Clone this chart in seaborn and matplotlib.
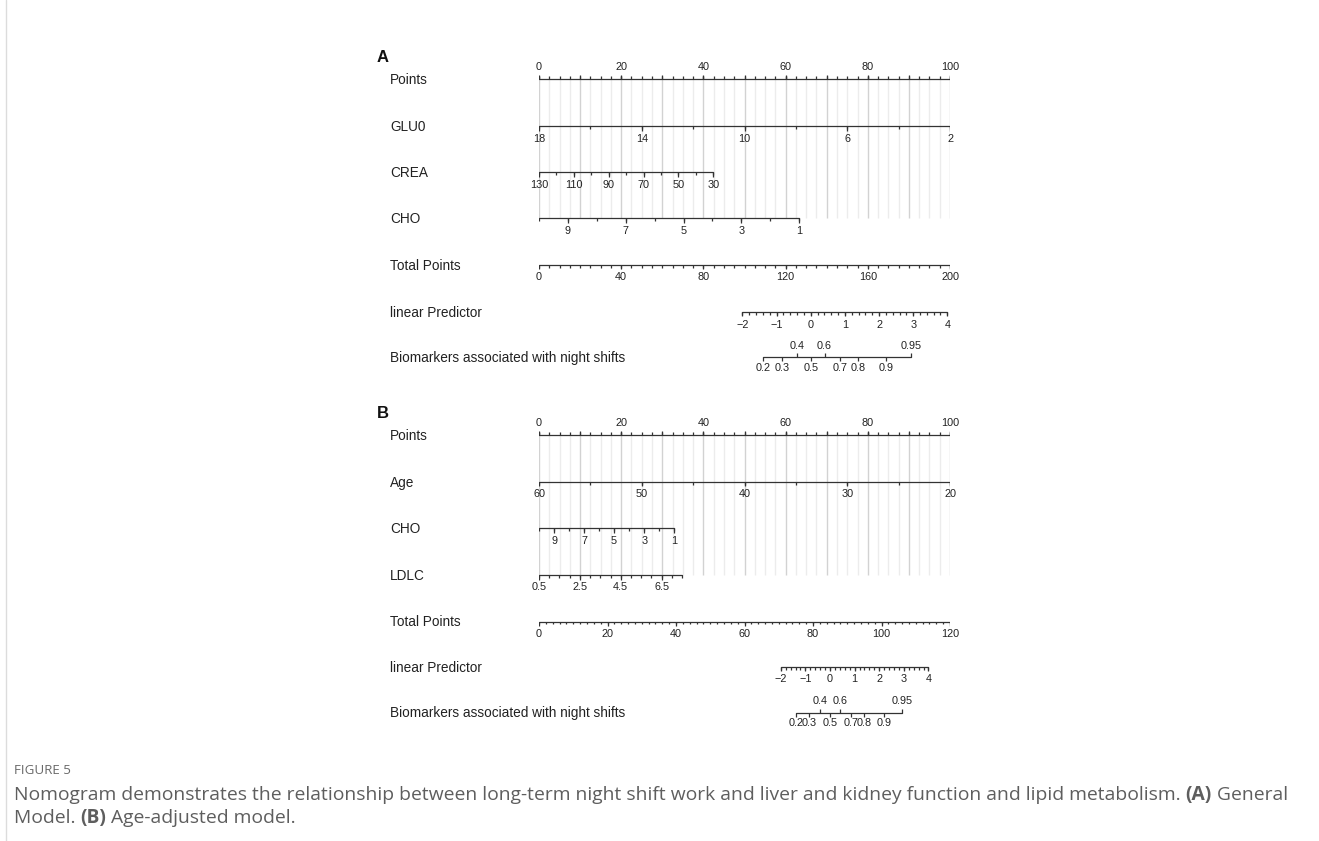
import numpy as np
import pandas as pd
import matplotlib
matplotlib.use("Agg")
import matplotlib.pyplot as plt
from matplotlib.transforms import blended_transform_factory
import seaborn as sns

# ---------------- Panel A: general model ----------------
A_POINTS_LABELS = [0, 20, 40, 60, 80, 100]
GLU0_TICKS = [18, 16, 14, 12, 10, 8, 6, 4, 2]
GLU0_LABELS = [18, 14, 10, 6, 2]
GLU0_POINTS = [0.0, 100.0]          # points at first / last tick value
CREA_TICKS = [130, 120, 110, 100, 90, 80, 70, 60, 50, 40, 30]
CREA_LABELS = [130, 110, 90, 70, 50, 30]
CREA_POINTS = [0.0, 42.4]
A_CHO_TICKS = [10, 9, 8, 7, 6, 5, 4, 3, 2, 1]
A_CHO_LABELS = [9, 7, 5, 3, 1]
A_CHO_POINTS = [0.0, 63.3]
A_TOTAL_MAX = 200
A_TOTAL_LABELS = [0, 40, 80, 120, 160, 200]
LP_LABELS = [-2, -1, 0, 1, 2, 3, 4]
A_LP_TOTAL = [99.0, 198.7]          # total points at lp = -2 and lp = 4
PROB_TICKS = [0.2, 0.3, 0.4, 0.5, 0.6, 0.7, 0.8, 0.9, 0.95]
PROB_UPPER = [0.4, 0.6, 0.95]

# ---------------- Panel B: age-adjusted model ----------------
AGE_TICKS = [60, 55, 50, 45, 40, 35, 30, 25, 20]
AGE_LABELS = [60, 50, 40, 30, 20]
AGE_POINTS = [0.0, 100.0]
B_CHO_TICKS = [10, 9, 8, 7, 6, 5, 4, 3, 2, 1]
B_CHO_LABELS = [9, 7, 5, 3, 1]
B_CHO_POINTS = [0.0, 32.9]
LDLC_TICKS = [0.5, 1.0, 1.5, 2.0, 2.5, 3.0, 3.5, 4.0, 4.5, 5.0, 5.5, 6.0, 6.5, 7.0, 7.5]
LDLC_LABELS = [0.5, 2.5, 4.5, 6.5]
LDLC_POINTS = [0.0, 34.8]
B_TOTAL_MAX = 120
B_TOTAL_LABELS = [0, 20, 40, 60, 80, 100, 120]
B_LP_TOTAL = [70.6, 113.7]

ROW_NAMES_A = ["Points", "GLU0", "CREA", "CHO", "Total Points",
               "linear Predictor", "Biomarkers associated with night shifts"]
ROW_NAMES_B = ["Points", "Age", "CHO", "LDLC", "Total Points",
               "linear Predictor", "Biomarkers associated with night shifts"]

# ---------------- layout (pixels) ----------------
W, H = 1319, 841
X0, X1 = 539, 950                    # points 0 .. 100
ROWS_A = [79, 126, 172, 218, 265, 312, 357]
ROWS_B = [435, 481.5, 528, 575, 621.5, 667, 712.5]
LABEL_X = 390
INK = "#333333"
GRID_MAJOR = "#d2d2d2"
GRID_MINOR = "#ececec"
TICK_FS = 7.8
ROW_FS = 9.8

sns.set_theme(style="white")
plt.rcParams["font.family"] = ["Liberation Sans", "DejaVu Sans"]

fig = plt.figure(figsize=(W / 100, H / 100), dpi=100)
fig.patch.set_facecolor("white")
ax = fig.add_axes([X0 / W, 0, (X1 - X0) / W, 1])
ax.set_xlim(0, 100)
ax.set_ylim(H, 0)
ax.axis("off")
lab_tr = blended_transform_factory(fig.transFigure, ax.transData)

segments = []          # baselines collected for seaborn


def fmt(v):
    if float(v).is_integer():
        s = str(int(v))
    else:
        s = ("%g" % v)
    return s.replace("-", "\u2212")


def lin(v, v0, v1, p0, p1):
    return p0 + (np.asarray(v, float) - v0) * (p1 - p0) / (v1 - v0)


def ticks(xs, y, length, up):
    y2 = y - length if up else y + length
    ax.vlines(xs, y, y2, color=INK, lw=0.9)


def labels(xs, vals, y, up, off=12.5):
    for x, v in zip(xs, vals):
        ax.text(x, y - off if up else y + off, fmt(v), ha="center", va="center",
                fontsize=TICK_FS, color="#222222", clip_on=False)


def scale(name, y, xs_all, xs_lab, vals_lab, up, minor_len=3.0, major_len=4.5):
    xs_all = np.asarray(xs_all, float)
    segments.append(pd.DataFrame({"x": [xs_all.min(), xs_all.max()], "y": [y, y], "scale": name}))
    ticks(xs_all, y, minor_len, up)
    ticks(xs_lab, y, major_len, up)
    labels(xs_lab, vals_lab, y, up)


def variable(name, y, tick_vals, lab_vals, pts):
    v0, v1 = tick_vals[0], tick_vals[-1]
    scale(name, y, lin(tick_vals, v0, v1, *pts), lin(lab_vals, v0, v1, *pts),
          lab_vals, up=False, minor_len=3.0, major_len=4.5)


def grid(y_top, y_bot):
    steps = np.arange(0, 100.01, 2.5)
    major = steps[np.isclose(steps % 10, 0)]
    minor = steps[~np.isclose(steps % 10, 0)]
    ax.vlines(minor, y_top, y_bot, color=GRID_MINOR, lw=1.0, zorder=0)
    ax.vlines(major, y_top, y_bot, color=GRID_MAJOR, lw=1.0, zorder=0)


def panel(letter, rows, names, var_specs, total_max, total_labels, total_step, lp_total):
    y = rows
    ax.text(377 / W, y[0] - 22, letter, transform=lab_tr, fontsize=12,
            fontweight="bold", ha="left", va="center", color="#111111")
    for yy, nm in zip(y, names):
        ax.text(LABEL_X / W, yy + 1, nm, transform=lab_tr, fontsize=ROW_FS,
                ha="left", va="center", color="#222222")
    grid(y[0], y[3])
    # points scale
    pts_all = np.arange(0, 100.01, 2.5)
    scale("points", y[0], pts_all, A_POINTS_LABELS, A_POINTS_LABELS, up=True,
          minor_len=2.8, major_len=2.8)
    ticks(np.arange(0, 100.01, 10), y[0], 3.8, True)
    # predictors
    for i, (nm, tv, lv, pp) in enumerate(var_specs):
        variable(nm, y[i + 1], tv, lv, pp)
    # total points
    tot_all = np.arange(0, total_max + 0.01, total_step)
    to_x = lambda t: np.asarray(t, float) * 100.0 / total_max
    scale("total", y[4], to_x(tot_all), to_x(total_labels), total_labels, up=False,
          minor_len=2.8, major_len=4.2)
    # linear predictor
    lp_to_x = lambda lp: to_x(lin(lp, -2, 4, lp_total[0], lp_total[1]))
    lp_all = np.arange(-2, 4.001, 0.2)
    scale("lp", y[5], lp_to_x(lp_all), lp_to_x(LP_LABELS), LP_LABELS, up=False,
          minor_len=2.8, major_len=4.2)
    # probability
    p = np.asarray(PROB_TICKS)
    px = lp_to_x(np.log(p / (1 - p)))
    segments.append(pd.DataFrame({"x": [px.min(), px.max()], "y": [y[6], y[6]], "scale": "prob"}))
    upper = np.isin(p, PROB_UPPER)
    ticks(px[upper], y[6], 4.0, True)
    ticks(px[~upper], y[6], 4.0, False)
    labels(px[upper], p[upper], y[6], True, off=11.0)
    labels(px[~upper], p[~upper], y[6], False, off=11.0)


panel("A", ROWS_A, ROW_NAMES_A,
      [("GLU0", GLU0_TICKS, GLU0_LABELS, GLU0_POINTS),
       ("CREA", CREA_TICKS, CREA_LABELS, CREA_POINTS),
       ("CHO", A_CHO_TICKS, A_CHO_LABELS, A_CHO_POINTS)],
      A_TOTAL_MAX, A_TOTAL_LABELS, 5, A_LP_TOTAL)
segA = segments
segments = []
panel("B", ROWS_B, ROW_NAMES_B,
      [("Age", AGE_TICKS, AGE_LABELS, AGE_POINTS),
       ("CHO", B_CHO_TICKS, B_CHO_LABELS, B_CHO_POINTS),
       ("LDLC", LDLC_TICKS, LDLC_LABELS, LDLC_POINTS)],
      B_TOTAL_MAX, B_TOTAL_LABELS, 2, B_LP_TOTAL)

for k, seg in enumerate(segA + segments):
    seg = seg.assign(scale=f"s{k}")
    sns.lineplot(data=seg, x="x", y="y", units="scale", estimator=None, sort=False,
                 color=INK, lw=0.9, ax=ax, legend=False)
ax.set_xlim(0, 100)
ax.set_ylim(H, 0)
ax.axis("off")

# ---------------- caption ----------------
renderer = fig.canvas.get_renderer()
CAP_FONT = ["Open Sans", "DejaVu Sans"]
CAP_COLOR = "#5e5e5e"


def rich(x_px, y_px, parts, size):
    x = x_px
    for txt, weight in parts:
        t = fig.text(x / W, 1 - y_px / H, txt, fontsize=size, fontweight=weight,
                     family=CAP_FONT, color=CAP_COLOR, ha="left", va="center")
        bb = t.get_window_extent(renderer=renderer)
        x += bb.width


fig.text(14 / W, 1 - 771 / H, "FIGURE 5", fontsize=9.6, family=CAP_FONT,
         color="#6a6a6a", ha="left", va="center")
rich(14, 795, [("Nomogram demonstrates the relationship between long-term night shift work "
                "and liver and kidney function and lipid metabolism. ", "normal"),
               ("(A)", "bold"), (" General", "normal")], 13.9)
rich(14, 818, [("Model. ", "normal"), ("(B)", "bold"), (" Age-adjusted model.", "normal")], 13.9)

# thin page rule on the left edge
fig.add_artist(plt.Line2D([6 / W, 6 / W], [0, 1], transform=fig.transFigure,
                          color="#dcdcdc", lw=1.0))

fig.savefig("out.png", dpi=100, facecolor="white")
